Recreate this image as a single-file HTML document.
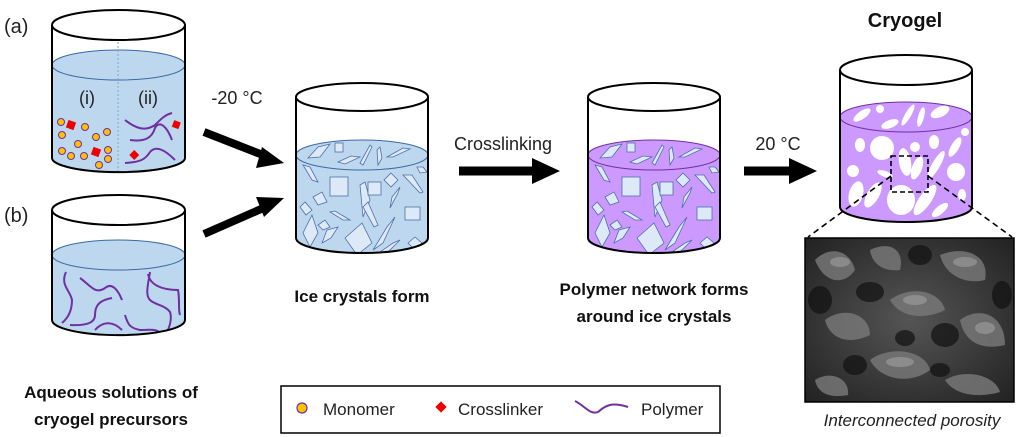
<!DOCTYPE html>
<html><head><meta charset="utf-8"><style>
html,body{margin:0;padding:0;background:#fff;}
svg{display:block;font-family:"Liberation Sans",Arial,sans-serif;}
</style></head><body>
<svg width="1024" height="437" viewBox="0 0 1024 437" xmlns="http://www.w3.org/2000/svg">
<defs>
<radialGradient id="sem" cx="50%" cy="50%" r="70%">
<stop offset="0" stop-color="#555"/><stop offset="1" stop-color="#222"/>
</radialGradient>
<clipPath id="cw"><path d="M0,15 A66,15 0 0 1 132,15 L132,98 A66,15 0 0 1 0,98 Z"/></clipPath>
<clipPath id="cb"><path d="M52,255 A66,15 0 0 1 185,255 L185,320 A66,15 0 0 1 52,320 Z"/></clipPath>
<g id="crys" fill="#dde9f7" stroke="#4f6fa8" stroke-width="0.8" clip-path="url(#cw)">
<polygon points="12,18 22,7 34,4 24,17"/>
<rect x="39" y="3" width="8" height="9"/>
<polygon points="64,23 74,5 76,7 67,25"/>
<polygon points="81,10 84,7 86,18 82,25"/>
<polygon points="91,17 107,8 114,9 97,17"/>
<polygon points="42,22 55,16 64,17 49,24"/>
<polygon points="7,25 14,27 22,42 16,40"/>
<rect x="34" y="37" width="18" height="19"/>
<polygon points="64,45 69,42 74,60 67,77"/>
<rect x="72" y="42" width="13" height="13"/>
<polygon points="95,33 102,40 95,47 88,40"/>
<polygon points="107,35 116,35 127,52 124,53"/>
<polygon points="121,27 127,27 131,32 124,33"/>
<polygon points="17,57 26,52 31,62 22,65"/>
<polygon points="4,67 9,62 16,70 10,75"/>
<polygon points="34,72 39,71 54,80 47,80"/>
<polygon points="96,57 104,47 102,53 94,68"/>
<rect x="109" y="67" width="15" height="13"/>
<polygon points="67,67 72,62 82,85 78,87"/>
<polygon points="7,93 16,75 22,93 14,107"/>
<polygon points="22,85 29,80 34,87 27,90"/>
<polygon points="26,103 31,90 42,87 35,98"/>
<polygon points="49,98 66,83 76,103 61,115"/>
<polygon points="77,110 91,87 99,77 87,103"/>
<polygon points="84,112 97,103 104,100 91,113"/>
<polygon points="112,103 119,97 126,103 119,110"/>
</g>
</defs>

<!-- Beaker (a) -->
<path d="M52,65 A66,15 0 0 1 185,65 L185,158 A66,14 0 0 1 52,158 Z" fill="#bdd7ee"/>
<ellipse cx="118.5" cy="65" rx="66.5" ry="15" fill="#bdd7ee" stroke="#3b6aa5" stroke-width="1"/>
<line x1="118" y1="38" x2="118" y2="172" stroke="#7aa6da" stroke-width="1" stroke-dasharray="2,2"/>
<path d="M52,25 L52,158 A66,14 0 0 0 185,158 L185,25" fill="none" stroke="#000" stroke-width="2"/>
<ellipse cx="118.5" cy="25" rx="66.5" ry="15" fill="#fff" stroke="#000" stroke-width="2"/>
<text x="87" y="104" font-size="18" fill="#222" text-anchor="middle">(i)</text>
<text x="148" y="104" font-size="18" fill="#222" text-anchor="middle">(ii)</text>
<g fill="#ffc000" stroke="#7030a0" stroke-width="1">
<circle cx="61" cy="122" r="3.5"/><circle cx="85" cy="127" r="3.5"/><circle cx="62" cy="135" r="3.5"/>
<circle cx="96" cy="137" r="3.5"/><circle cx="107" cy="132" r="3.5"/><circle cx="78" cy="144" r="3.5"/>
<circle cx="62" cy="151" r="3.5"/><circle cx="71" cy="156" r="3.5"/><circle cx="84" cy="156" r="3.5"/>
<circle cx="108" cy="150" r="3.5"/><circle cx="108" cy="159" r="3.5"/><circle cx="99" cy="165" r="3.5"/>
</g>
<g fill="#e00">
<rect x="67" y="121" width="8" height="8" transform="rotate(20 71 125)"/>
<rect x="92" y="148" width="8" height="8" transform="rotate(20 96 152)"/>
<rect x="173" y="121" width="7" height="7" transform="rotate(20 176 124)"/>
<rect x="131" y="152" width="7" height="7" transform="rotate(45 135 155)"/>
</g>
<g fill="none" stroke="#7030a0" stroke-width="2">
<path d="M125,120 C135,128 145,132 155,125 C162,118 165,115 172,113"/>
<path d="M130,140 C145,142 152,138 155,128 C158,122 165,122 172,140"/>
<path d="M125,163 C140,162 145,160 150,152 C156,145 165,150 175,160"/>
</g>

<!-- Beaker (b) -->
<path d="M52,255 A66,15 0 0 1 185,255 L185,320 A66,15 0 0 1 52,320 Z" fill="#bdd7ee"/>
<ellipse cx="118.5" cy="255" rx="66.5" ry="15" fill="#bdd7ee" stroke="#3b6aa5" stroke-width="1"/>
<g fill="none" stroke="#7030a0" stroke-width="2" clip-path="url(#cb)">
<path d="M66,272 C60,285 70,290 72,300 C72,310 68,318 62,323"/>
<path d="M80,278 C90,285 95,295 105,288 C112,282 118,290 122,300"/>
<path d="M112,298 C100,300 95,305 95,315 C95,322 88,326 70,325"/>
<path d="M150,272 C148,285 145,295 150,300 C155,305 165,305 170,312 C172,318 170,325 168,330"/>
<path d="M148,274 C150,285 162,290 178,290 C180,300 178,310 180,315"/>
<path d="M125,315 C128,325 130,328 140,330 C150,330 158,328 162,335"/>
<path d="M95,330 C102,322 112,320 122,330"/>
</g>
<path d="M52,210 L52,320 A66,15 0 0 0 185,320 L185,210" fill="none" stroke="#000" stroke-width="2"/>
<ellipse cx="118.5" cy="210" rx="66.5" ry="15" fill="#fff" stroke="#000" stroke-width="2"/>

<text x="4" y="33" font-size="20" fill="#222">(a)</text>
<text x="4" y="222" font-size="20" fill="#222">(b)</text>

<!-- Arrows a,b -->
<line x1="204" y1="132" x2="268" y2="157" stroke="#000" stroke-width="8"/>
<polygon points="284,163 262,147 256,168" fill="#000"/>
<line x1="204" y1="234" x2="268" y2="206" stroke="#000" stroke-width="8"/>
<polygon points="284,198 256,197 264,217" fill="#000"/>
<text x="237" y="104" font-size="18" fill="#222" text-anchor="middle">-20 °C</text>

<!-- Ice beaker -->
<path d="M296,155 A66,15 0 0 1 428,155 L428,238 A66,15 0 0 1 296,238 Z" fill="#bdd7ee"/>
<ellipse cx="362" cy="155" rx="66" ry="15" fill="#bdd7ee" stroke="#3b6aa5" stroke-width="1"/>
<use href="#crys" x="296" y="140"/>
<path d="M296,97 L296,238 A66,15 0 0 0 428,238 L428,97" fill="none" stroke="#000" stroke-width="2"/>
<ellipse cx="362" cy="97" rx="66" ry="14" fill="#fff" stroke="#000" stroke-width="2"/>

<!-- Crosslinking arrow -->
<line x1="459" y1="171" x2="535" y2="171" stroke="#000" stroke-width="9"/>
<polygon points="560,171 532,158 532,184" fill="#000"/>
<text x="503" y="150" font-size="18" fill="#222" text-anchor="middle">Crosslinking</text>

<!-- Polymer beaker -->
<path d="M588,155 A66,15 0 0 1 720,155 L720,238 A66,15 0 0 1 588,238 Z" fill="#cc99ff"/>
<ellipse cx="654" cy="155" rx="66" ry="15" fill="#cc99ff" stroke="#7030a0" stroke-width="1"/>
<use href="#crys" x="588" y="140"/>
<path d="M588,97 L588,238 A66,15 0 0 0 720,238 L720,97" fill="none" stroke="#000" stroke-width="2"/>
<ellipse cx="654" cy="97" rx="66" ry="14" fill="#fff" stroke="#000" stroke-width="2"/>

<!-- 20C arrow -->
<line x1="744" y1="171" x2="792" y2="171" stroke="#000" stroke-width="9"/>
<polygon points="817,171 789,158 789,184" fill="#000"/>
<text x="778" y="150" font-size="18" fill="#222" text-anchor="middle">20 °C</text>

<!-- Cryogel beaker -->
<text x="905" y="27" font-size="20" font-weight="bold" fill="#111" text-anchor="middle">Cryogel</text>
<path d="M840,117 A66,15 0 0 1 972,117 L972,207 A66,15 0 0 1 840,207 Z" fill="#cc99ff"/>
<ellipse cx="906" cy="117" rx="66" ry="15" fill="#cc99ff" stroke="#7030a0" stroke-width="1"/>
<g fill="#fff">
<ellipse cx="862" cy="115" rx="10" ry="4" transform="rotate(-35 862 115)"/>
<circle cx="880" cy="109" r="4"/>
<ellipse cx="890" cy="124" rx="9" ry="4" transform="rotate(-20 890 124)"/>
<ellipse cx="908" cy="115" rx="12" ry="3" transform="rotate(-60 908 115)"/>
<ellipse cx="921" cy="117" rx="10" ry="3" transform="rotate(-75 921 117)"/>
<ellipse cx="940" cy="112" rx="10" ry="5" transform="rotate(-25 940 112)"/>
<circle cx="965" cy="132" r="4"/>
<circle cx="882" cy="148" r="12"/>
<ellipse cx="860" cy="145" rx="5" ry="7"/>
<circle cx="915" cy="147" r="5"/>
<ellipse cx="934" cy="142" rx="5" ry="7"/>
<ellipse cx="955" cy="147" rx="11" ry="4" transform="rotate(-60 955 147)"/>
<ellipse cx="905" cy="162" rx="6" ry="14" transform="rotate(-10 905 162)"/>
<ellipse cx="917" cy="168" rx="5" ry="12" transform="rotate(20 917 168)"/>
<ellipse cx="936" cy="165" rx="4" ry="16" transform="rotate(30 936 165)"/>
<circle cx="956" cy="172" r="9"/>
<circle cx="853" cy="171" r="6"/>
<ellipse cx="885" cy="174" rx="8" ry="3" transform="rotate(20 885 174)"/>
<ellipse cx="856" cy="194" rx="7" ry="13" transform="rotate(15 856 194)"/>
<ellipse cx="873" cy="195" rx="6" ry="14" transform="rotate(30 873 195)"/>
<ellipse cx="901" cy="200" rx="14" ry="15"/>
<ellipse cx="925" cy="200" rx="6" ry="18" transform="rotate(35 925 200)"/>
<ellipse cx="940" cy="210" rx="10" ry="4" transform="rotate(-40 940 210)"/>
<ellipse cx="962" cy="195" rx="4" ry="6"/>
</g>
<path d="M840,70 L840,207 A66,15 0 0 0 972,207 L972,70" fill="none" stroke="#000" stroke-width="2"/>
<ellipse cx="906" cy="70" rx="66" ry="15" fill="#fff" stroke="#000" stroke-width="2"/>
<rect x="891" y="156" width="37" height="36" fill="none" stroke="#000" stroke-width="1.6" stroke-dasharray="5,3"/>
<line x1="891" y1="176" x2="808" y2="237" stroke="#000" stroke-width="1.6" stroke-dasharray="6,4"/>
<line x1="928" y1="176" x2="1012" y2="237" stroke="#000" stroke-width="1.6" stroke-dasharray="6,4"/>

<!-- SEM -->
<rect x="805" y="238" width="209" height="164" fill="url(#sem)" stroke="#000" stroke-width="1.5"/>
<g fill="#7a7a7a" opacity="0.8">
<path d="M815,260 C830,245 850,250 855,270 C845,285 825,285 815,260 Z"/>
<path d="M870,250 C890,240 905,250 900,270 C885,272 872,265 870,250 Z"/>
<path d="M940,255 C965,245 990,255 985,280 C965,285 945,275 940,255 Z"/>
<path d="M890,300 C910,285 940,290 945,310 C925,320 900,318 890,300 Z"/>
<path d="M825,320 C845,305 870,315 870,335 C850,345 830,340 825,320 Z"/>
<path d="M960,320 C980,305 1005,315 1005,345 C985,350 965,345 960,320 Z"/>
<path d="M870,360 C890,345 925,350 930,370 C910,385 880,380 870,360 Z"/>
<path d="M815,380 C830,370 850,378 848,395 C832,398 818,395 815,380 Z"/>
<path d="M945,380 C965,368 995,375 1000,392 C980,398 955,396 945,380 Z"/>
</g>
<g fill="#aaa" opacity="0.5">
<ellipse cx="840" cy="262" rx="10" ry="5"/>
<ellipse cx="965" cy="262" rx="12" ry="5"/>
<ellipse cx="915" cy="300" rx="12" ry="5"/>
<ellipse cx="985" cy="328" rx="10" ry="6"/>
<ellipse cx="900" cy="362" rx="14" ry="5"/>
</g>
<g fill="#111" opacity="0.7">
<ellipse cx="820" cy="300" rx="12" ry="14"/>
<ellipse cx="870" cy="292" rx="14" ry="10"/>
<ellipse cx="945" cy="335" rx="14" ry="12"/>
<ellipse cx="905" cy="338" rx="10" ry="8"/>
<ellipse cx="1002" cy="295" rx="10" ry="14"/>
<ellipse cx="855" cy="365" rx="12" ry="10"/>
<ellipse cx="940" cy="370" rx="10" ry="7"/>
<ellipse cx="920" cy="255" rx="12" ry="10"/>
</g>
<text x="912" y="426" font-size="17" font-style="italic" fill="#222" text-anchor="middle">Interconnected porosity</text>

<!-- Labels -->
<g font-size="17" font-weight="bold" fill="#111" text-anchor="middle">
<text x="362" y="302">Ice crystals form</text>
<text x="654" y="295">Polymer network forms</text>
<text x="654" y="322">around ice crystals</text>
<text x="111" y="398">Aqueous solutions of</text>
<text x="111" y="425">cryogel precursors</text>
</g>

<!-- Legend -->
<rect x="281" y="386" width="439" height="47" fill="#fff" stroke="#000" stroke-width="1.5"/>
<circle cx="302" cy="408" r="5" fill="#ffc000" stroke="#7030a0" stroke-width="1.2"/>
<text x="323" y="415" font-size="17" fill="#222">Monomer</text>
<rect x="437" y="403" width="8" height="8" fill="#e00" transform="rotate(45 441 407)"/>
<text x="458" y="415" font-size="17" fill="#222">Crosslinker</text>
<path d="M575,401 C585,406 590,415 598,412 C606,405 612,402 628,407" fill="none" stroke="#7030a0" stroke-width="2"/>
<text x="641" y="415" font-size="17" fill="#222">Polymer</text>
</svg>
</body></html>
